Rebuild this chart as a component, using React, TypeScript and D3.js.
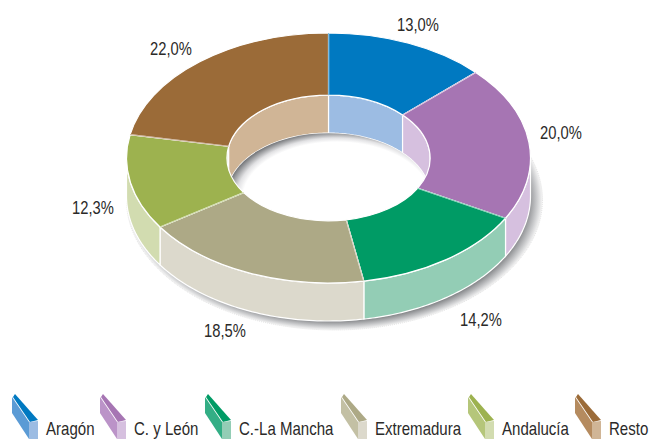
import React from "react";
import * as d3 from "d3";

const categories = ["Aragón", "C. y León", "C.-La Mancha", "Extremadura", "Andalucía", "Resto"];
const values = [13.0, 20.0, 14.2, 18.5, 12.3, 22.0];
const valueLabels = ["13,0%", "20,0%", "14,2%", "18,5%", "12,3%", "22,0%"];
const topColors = ["#0079c1", "#a675b3", "#009b65", "#ada986", "#9db24f", "#9b6b38"];
const midColors = ["#5b9bd5", "#bb93c8", "#33ae85", "#c3c0a4", "#b5c67a", "#b58b5f"];
const wallColors = ["#9cbce3", "#d6c0df", "#93cdb5", "#dcd9cc", "#d2dcb0", "#d0b596"];
const labelX = [418, 561, 481, 225, 93, 171];
const labelY = [31, 139, 326, 337, 214, 55];
const legendX = [12, 100, 205, 341, 468, 575];

const W = 650, H = 439;
const cx = 328.5, cy = 158, rx = 202, ry = 125, holeRatio = 0.503, depth = 38;
const FONT = "'Liberation Sans',Arial,sans-serif";

const x = d3.scaleLinear().domain([-1, 1]).range([cx - rx, cx + rx]);
const y = d3.scaleLinear().domain([-1, 1]).range([cy - ry, cy + ry]);

const pie = d3.pie<number>().sort(null).startAngle(0).endAngle(2 * Math.PI);
const slices = pie(values);
const arc = d3.arc<any>().innerRadius(holeRatio).outerRadius(1);

const line = d3.line<[number, number]>();
const pt = (t: number, r: number, dy = 0): [number, number] => [x(r * Math.sin(t)), y(-r * Math.cos(t)) + dy];

function wall(a0: number, a1: number, r: number, lo: number, hi: number) {
  const s = Math.max(a0, lo), e = Math.min(a1, hi);
  if (e <= s) return null;
  const ts = d3.range(0, 61).map((i) => s + ((e - s) * i) / 60);
  return (line([...ts.map((t) => pt(t, r)), ...ts.slice().reverse().map((t) => pt(t, r, depth))]) as string) + "Z";
}

const HP = Math.PI / 2;
const glyph = {
  dark: "M3,0 L26,26 L18,28 L1,3 Z",
  mid: "M0,3 L17,28 L17,45 L0,19 Z",
  front: "M17,28 L26,27 L26,45 L17,45 Z",
};

export default function App() {
  const rin = holeRatio;
  return (
    <svg width={W} height={H} viewBox={`0 0 ${W} ${H}`} style={{ position: "absolute", left: 0, top: 0, background: "#fff" }}>
      <defs>
        <radialGradient id="outerShadow" gradientUnits="userSpaceOnUse" cx={0} cy={0} r={1}
          gradientTransform={`translate(${cx + 6} ${cy + 42}) scale(208 130)`}>
          <stop offset="0.91" stopColor="#696b6e" />
          <stop offset="0.97" stopColor="#c6c7c9" />
          <stop offset="1" stopColor="#f6f6f6" />
        </radialGradient>
        <radialGradient id="innerShadow" gradientUnits="userSpaceOnUse" cx={0} cy={0} r={1}
          gradientTransform={`translate(${cx + 8} ${cy + depth + 3}) scale(${rx * rin + 10} ${ry * rin + 5})`}>
          <stop offset="0.84" stopColor="#ffffff" />
          <stop offset="0.9" stopColor="#e2e2e4" />
          <stop offset="1" stopColor="#707275" />
        </radialGradient>
      </defs>

      <ellipse cx={cx + 6} cy={cy + 42} rx={208} ry={130} fill="url(#outerShadow)" stroke="#c9c9c9" strokeWidth={0.5} strokeDasharray="1 1" />

      {slices.map((s, i) => {
        const d = wall(s.startAngle, s.endAngle, 1, HP, 3 * HP);
        return d ? <path key={i} d={d} fill={wallColors[i]} stroke="#fff" strokeWidth={1.2} /> : null;
      })}

      <ellipse cx={x(0)} cy={y(0)} rx={rx * rin} ry={ry * rin} fill="#fff" />
      {slices.map((s, i) => (
        <g key={i}>
          {[wall(s.startAngle, s.endAngle, rin, 0, HP), wall(s.startAngle, s.endAngle, rin, 3 * HP, 4 * HP)].map((d, j) =>
            d ? <path key={j} d={d} fill={wallColors[i]} stroke="#fff" strokeWidth={1.2} /> : null
          )}
        </g>
      ))}
      <ellipse cx={x(0)} cy={y(0) + depth} rx={rx * rin} ry={ry * rin} fill="url(#innerShadow)" />

      <g transform={`translate(${x(0)} ${y(0)}) scale(${rx} ${ry})`}>
        {slices.map((s, i) => (
          <path key={i} d={arc(s) as string} fill={topColors[i]} stroke="#fff" strokeWidth={1.2} vectorEffect="non-scaling-stroke" />
        ))}
      </g>
      {slices.map((s, i) => (
        <path key={i} d={line([pt(s.startAngle, rin), pt(s.startAngle, 1)]) as string} stroke={topColors[i]} strokeWidth={0.5} fill="none" />
      ))}

      {valueLabels.map((t, i) => (
        <text key={i} transform={`translate(${labelX[i]} ${labelY[i]}) scale(0.82 1)`} textAnchor="middle" fontFamily={FONT} fontSize={18} fill="#2b2a29">{t}</text>
      ))}

      {categories.map((c, i) => (
        <g key={c} transform={`translate(${legendX[i]} 394)`}>
          <path d={glyph.mid} fill={midColors[i]} />
          <path d={glyph.dark} fill={topColors[i]} />
          <path d={glyph.front} fill={wallColors[i]} />
          <text transform="translate(34 41) scale(0.86 1)" fontFamily={FONT} fontSize={17.5} fill="#2b2a29">{c}</text>
        </g>
      ))}
    </svg>
  );
}
